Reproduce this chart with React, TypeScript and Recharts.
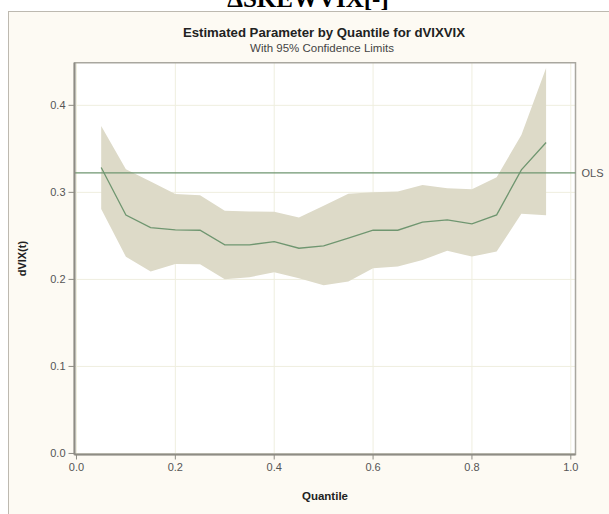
import React from "react";
import {
  ComposedChart,
  Area,
  Line,
  XAxis,
  YAxis,
  CartesianGrid,
  ReferenceLine,
  ReferenceArea,
  Label,
} from "recharts";

const quantiles = [0.05, 0.1, 0.15, 0.2, 0.25, 0.3, 0.35, 0.4, 0.45, 0.5, 0.55, 0.6, 0.65, 0.7, 0.75, 0.8, 0.85, 0.9, 0.95];
const estimates = [0.3285, 0.274, 0.2596, 0.2569, 0.2565, 0.2397, 0.2397, 0.2435, 0.2358, 0.2385, 0.2473, 0.2565, 0.2565, 0.2657, 0.2684, 0.2638, 0.2741, 0.3259, 0.3573];
const lowerCL = [0.281, 0.226, 0.209, 0.2178, 0.2174, 0.2002, 0.2025, 0.2083, 0.2013, 0.1932, 0.1975, 0.2128, 0.2147, 0.2224, 0.2328, 0.2262, 0.232, 0.2753, 0.2738];
const upperCL = [0.3764, 0.3267, 0.3124, 0.298, 0.2967, 0.279, 0.278, 0.2776, 0.271, 0.2845, 0.2983, 0.3, 0.301, 0.3086, 0.3048, 0.3036, 0.3174, 0.366, 0.4428];
const olsEstimate = 0.3224;
const xTicks = [0, 0.2, 0.4, 0.6, 0.8, 1.0];
const yTicks = [0, 0.1, 0.2, 0.3, 0.4];

const data = quantiles.map((q, i) => ({
  q,
  est: estimates[i],
  band: [lowerCL[i], upperCL[i]],
}));

const FONT = "'Liberation Sans', Arial, sans-serif";
const X_DOMAIN: [number, number] = [-0.004, 1.0095];
const Y_DOMAIN: [number, number] = [-0.0012, 0.449];

export default function App() {
  return (
    <div style={{ position: "absolute", left: 0, top: 0, width: 609, height: 514, background: "#ffffff", overflow: "hidden" }}>
      <div
        style={{
          position: "absolute",
          left: 8,
          top: 11,
          width: 640,
          height: 540,
          background: "#FDFAF3",
          borderLeft: "1px solid #BDB9B0",
          borderTop: "1px solid #BDB9B0",
        }}
      />
      <svg width={609} height={60} style={{ position: "absolute", left: 0, top: 0 }}>
        <text x={308} y={7} textAnchor="middle" fontFamily="'Liberation Serif', 'Times New Roman', serif" fontWeight="bold" fontSize={25} fill="#000">
          ΔSKEWVIX[-]
        </text>
        <text x={324} y={37} textAnchor="middle" fontFamily={FONT} fontWeight="bold" fontSize={13.2} fill="#222">
          Estimated Parameter by Quantile for dVIXVIX
        </text>
        <text x={322} y={51.5} textAnchor="middle" fontFamily={FONT} fontSize={11.5} fill="#444">
          With 95% Confidence Limits
        </text>
      </svg>
      <div style={{ position: "absolute", left: 0, top: 0 }}>
        <ComposedChart
          width={609}
          height={514}
          data={data}
          margin={{ top: 62.7, right: 33.5, bottom: 0, left: 0 }}
        >
          <CartesianGrid
            fill="#ffffff"
            stroke="#EFEEDF"
            strokeWidth={1}
            horizontalValues={yTicks}
            verticalValues={xTicks}
          />
          <XAxis
            type="number"
            dataKey="q"
            domain={X_DOMAIN}
            allowDataOverflow
            ticks={xTicks}
            interval={0}
            tickFormatter={(v: number) => v.toFixed(1)}
            height={59.5}
            tickSize={5}
            tickMargin={4}
            stroke="#8E8C84"
            axisLine={{ stroke: "#8E8C84", strokeWidth: 2 }}
            tickLine={{ stroke: "#8E8C84" }}
            tick={{ fill: "#555555", fontSize: 11, fontFamily: FONT }}
          >
            <Label value="Quantile" position="insideBottom" offset={14} style={{ fontFamily: FONT, fontWeight: "bold", fontSize: 11.5, fill: "#222" }} />
          </XAxis>
          <YAxis
            type="number"
            domain={Y_DOMAIN}
            allowDataOverflow
            ticks={yTicks}
            interval={0}
            tickFormatter={(v: number) => v.toFixed(1)}
            width={74.5}
            tickSize={6}
            tickMargin={3}
            stroke="#8E8C84"
            axisLine={{ stroke: "#8E8C84", strokeWidth: 2 }}
            tickLine={{ stroke: "#8E8C84" }}
            tick={{ fill: "#555555", fontSize: 11, fontFamily: FONT }}
          >
            <Label
              value="dVIX(t)"
              angle={-90}
              position="insideLeft"
              offset={22}
              style={{ textAnchor: "middle", fontFamily: FONT, fontWeight: "bold", fontSize: 11, fill: "#222" }}
            />
          </YAxis>
          <Area
            type="linear"
            dataKey="band"
            stroke="none"
            fill="#DDDAC8"
            fillOpacity={1}
            isAnimationActive={false}
            activeDot={false}
          />
          <Line
            type="linear"
            dataKey="est"
            stroke="#6F9670"
            strokeWidth={1.3}
            dot={false}
            activeDot={false}
            isAnimationActive={false}
          />
          <ReferenceLine
            y={olsEstimate}
            stroke="#6F9670"
            strokeWidth={1.2}
            ifOverflow="visible"
            label={{ value: "OLS", position: "right", fill: "#555555", fontSize: 11, fontFamily: FONT, offset: 6 }}
          />
          <ReferenceArea
            x1={X_DOMAIN[0]}
            x2={X_DOMAIN[1]}
            y1={Y_DOMAIN[0]}
            y2={Y_DOMAIN[1]}
            fill="none"
            fillOpacity={0}
            stroke="#A9A79F"
            strokeWidth={1.5}
            ifOverflow="visible"
          />
        </ComposedChart>
      </div>
    </div>
  );
}
